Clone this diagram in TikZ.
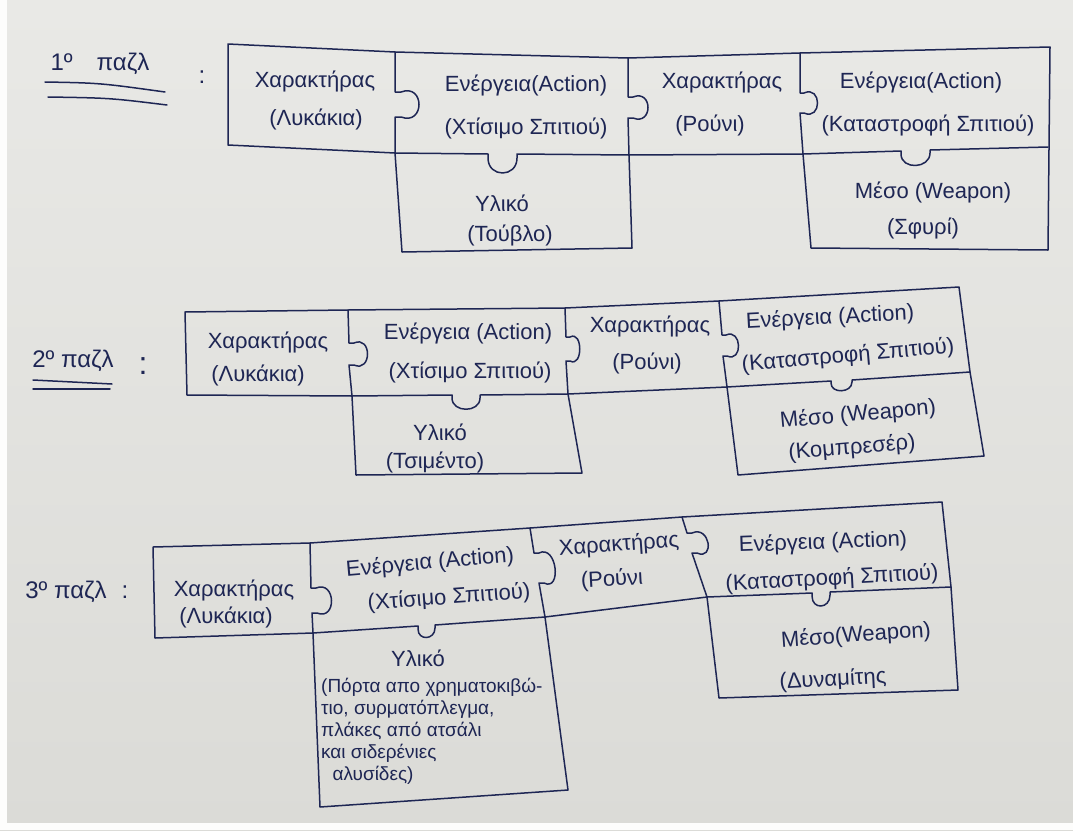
\documentclass[tikz,border=0pt]{standalone}
\usepackage{fontspec}
\setmainfont{Liberation Sans}
\definecolor{ink}{RGB}{30,38,84}
\definecolor{paper}{RGB}{233,233,230}
\definecolor{paperdark}{RGB}{219,219,215}
\tikzset{
  piece/.style={draw=ink,line width=1.5pt,line join=round,line cap=round},
  lbl/.style={text=ink,inner sep=0pt,font=\fontsize{22}{25}\selectfont},
  ttl/.style={text=ink,inner sep=0pt,font=\fontsize{24}{28}\selectfont}
}
\begin{document}
\begin{tikzpicture}[x=1pt,y=-1pt]
\useasboundingbox (0,0) rectangle (1073,830);
\shade[top color=paper,bottom color=paperdark] (0,0) rectangle (1073,830);
\fill[white!90!paper] (0,0) rectangle (7,830);
\fill[white!90!paper] (0,823) rectangle (1073,830);
% 1o puzzle
\node[ttl] (puz1) at (100,64) {1º\quad παζλ};
\draw[piece] (45,82) .. controls (100,83) .. (165,92);
\draw[piece] (48,97) .. controls (110,98) .. (167,105);
\node[ttl] (colon1) at (202,77) {:};
\draw[piece] (1048,250) -- (811,248) -- (803,154) -- (629,155) -- (632,248) -- (402,252) -- (395,153) -- (228,145) -- (228,44) -- (395,52) -- (628,58) -- (800,53) -- (1050,47) -- cycle;
\draw[piece] (395,52) -- (395,92) -- ++(6,0) .. controls +(24,-9) and +(24,9) .. ++(0,25) -- ++(-6,0) -- (395,153);
\draw[piece] (628,58) -- (628,97) -- ++(5,0) .. controls +(20,-8) and +(20,8) .. ++(0,21) -- ++(-5,0) -- (629,155);
\draw[piece] (800,53) -- (800,93) -- ++(4,0) .. controls +(18,-8) and +(18,8) .. ++(0,20) -- ++(-4,0) -- (803,154);
\draw[piece] (395,153) -- (488,154) -- ++(0,4) .. controls +(0,20) and +(0,20) .. ++(29,0) -- ++(0,-4) -- (629,155);
\draw[piece] (803,154) -- (901,151) -- ++(0,3) .. controls +(0,16) and +(0,16) .. ++(29,-1) -- ++(0,-3) -- (1048,147);
\node[lbl] (hero1) at (315,81) {Χαρακτήρας};
\node[lbl] (hero1b) at (316,119) {(Λυκάκια)};
\node[lbl] (act1) at (526,85) {Ενέργεια(Action)};
\node[lbl] (act1b) at (526,128) {(Χτίσιμο Σπιτιού)};
\node[lbl] (mat1) at (502,203) {Υλικό};
\node[lbl] (mat1b) at (510,235) {(Τούβλο)};
\node[lbl] (rouni1) at (722,82) {Χαρακτήρας};
\node[lbl] (rouni1b) at (710,125) {(Ρούνι)};
\node[lbl] (act1c) at (921,82) {Ενέργεια(Action)};
\node[lbl] (act1d) at (928,125) {(Καταστροφή Σπιτιού)};
\node[lbl] (tool1) at (933,192) {Μέσο (Weapon)};
\node[lbl] (tool1b) at (923,228) {(Σφυρί)};
% 2o puzzle
\node[ttl] (puz2) at (73,361) {2º παζλ};
\draw[piece] (33,380) -- (112,384);
\draw[piece] (33,389) -- (110,389);
\node[ttl,font=\fontsize{32}{36}\selectfont] (colon2) at (143,366) {:};
\draw[piece] (984,456) -- (738,475) -- (727,387) -- (568,394) -- (582,473) -- (356,475) -- (352,396) -- (187,395) -- (185,312) -- (348,310) -- (565,308) -- (719,301) -- (959,287) -- (970,372) -- cycle;
\draw[piece] (348,310) -- (349,343) -- ++(5,0) .. controls +(18,-8) and +(18,8) .. ++(0,22) -- ++(-5,0) -- (352,396);
\draw[piece] (565,308) -- (566,337) -- ++(4,0) .. controls +(13,-7) and +(13,7) .. ++(0,24) -- ++(-4,0) -- (568,394);
\draw[piece] (719,301) -- (722,335) -- ++(4,0) .. controls +(16,-7) and +(16,7) .. ++(1,21) -- ++(-4,0) -- (727,387);
\draw[piece] (352,396) -- (452,395) -- ++(0,3) .. controls +(0,15) and +(0,15) .. ++(28,0) -- ++(0,-3) -- (568,394);
\draw[piece] (727,387) -- (831,381) -- ++(0,2) .. controls +(0,11) and +(0,11) .. ++(21,-1) -- ++(0,-2) -- (970,372);
\node[lbl] (hero2) at (268,342) {Χαρακτήρας};
\node[lbl] (hero2b) at (258,375) {(Λυκάκια)};
\node[lbl] (act2) at (468,333) {Ενέργεια (Action)};
\node[lbl] (act2b) at (470,372) {(Χτίσιμο Σπιτιού)};
\node[lbl] (mat2) at (440,432) {Υλικό};
\node[lbl] (mat2b) at (435,462) {(Τσιμέντο)};
\node[lbl] (rouni2) at (650,326) {Χαρακτήρας};
\node[lbl] (rouni2b) at (647,363) {(Ρούνι)};
\node[lbl,rotate=3] (act2c) at (830,318) {Ενέργεια (Action)};
\node[lbl,rotate=5] (act2d) at (848,356) {(Καταστροφή Σπιτιού)};
\node[lbl,rotate=5] (tool2) at (858,415) {Μέσο (Weapon)};
\node[lbl,rotate=5] (tool2b) at (852,448) {(Κομπρεσέρ)};
% 3o puzzle
\node[ttl] (puz3) at (66,592) {3º παζλ};
\node[ttl] (colon3) at (125,592) {:};
\draw[piece] (958,690) -- (719,698) -- (707,597) -- (545,617) -- (568,790) -- (320,807) -- (313,633) -- (155,638) -- (153,547) -- (310,543) -- (530,528) -- (682,517) -- (942,502) -- (951,587) -- cycle;
\draw[piece] (310,543) -- (311,588) -- ++(5,0) .. controls +(20,-8) and +(20,8) .. ++(1,25) -- ++(-5,0) -- (313,633);
\draw[piece] (530,528) -- (534,553) -- ++(5,0) .. controls +(18,-9) and +(18,9) .. ++(5,30) -- ++(-5,0) -- (545,617);
\draw[piece] (682,517) -- (687,533) -- ++(5,0) .. controls +(18,-8) and +(18,8) .. ++(5,20) -- ++(-5,0) -- (707,597);
\draw[piece] (313,633) -- (418,626) -- ++(0,3) .. controls +(0,12) and +(0,12) .. ++(17,-1) -- ++(0,-3) -- (545,617);
\draw[piece] (707,597) -- (812,593) -- ++(0,3) .. controls +(0,14) and +(0,14) .. ++(18,-1) -- ++(0,-3) -- (951,587);
\node[lbl] (hero3) at (234,590) {Χαρακτήρας};
\node[lbl] (hero3b) at (226,617) {(Λυκάκια)};
\node[lbl,rotate=5] (act3) at (430,563) {Ενέργεια (Action)};
\node[lbl,rotate=4] (act3b) at (449,598) {(Χτίσιμο Σπιτιού)};
\node[lbl] (mat3) at (418,658) {Υλικό};
\node[lbl,font=\fontsize{19}{22}\selectfont,align=left,anchor=north west] (mat3b) at (321,678)
  {(Πόρτα απο χρηματοκιβώ-\\τιο, συρματόπλεγμα,\\πλάκες από ατσάλι\\και σιδερένιες\\\hspace*{0.6em}αλυσίδες)};
\node[lbl,rotate=4] (rouni3) at (619,545) {Χαρακτήρας};
\node[lbl,rotate=3] (rouni3b) at (612,580) {(Ρούνι};
\node[lbl,rotate=2] (act3c) at (823,543) {Ενέργεια (Action)};
\node[lbl,rotate=3] (act3d) at (832,579) {(Καταστροφή Σπιτιού)};
\node[lbl,rotate=4] (tool3) at (856,636) {Μέσο(Weapon)};
\node[lbl,rotate=3] (tool3b) at (833,680) {(Δυναμίτης};
\end{tikzpicture}
\end{document}
